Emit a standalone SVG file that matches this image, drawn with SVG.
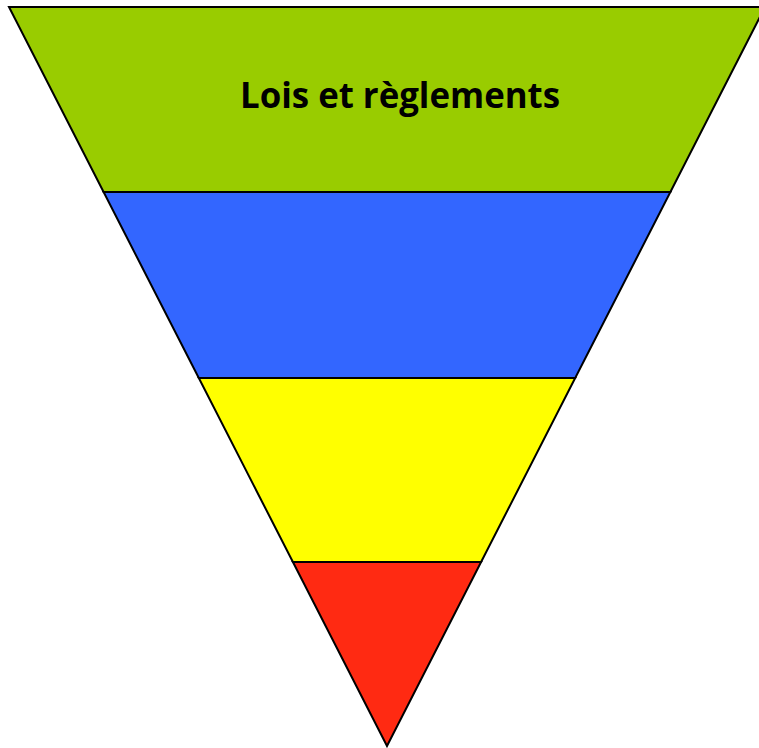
<svg xmlns="http://www.w3.org/2000/svg" width="759" height="748" viewBox="0 0 759 748">
  <style>
    .band { stroke: #000000; stroke-width: 2; stroke-linejoin: miter; }
    .label { font-family: "Open Sans", "Liberation Sans", sans-serif; font-weight: bold; font-size: 36px; fill: #000000; }
  </style>
  <rect x="0" y="0" width="759" height="748" fill="#ffffff"/>
  <g id="band1">
    <polygon class="band" fill="#99CC00" points="9,7 765,7 670.4,192 103.6,192"/>
    <text class="label" x="400" y="108" text-anchor="middle" textLength="320" lengthAdjust="spacingAndGlyphs">Lois et règlements</text>
  </g>
  <g id="band2">
    <polygon class="band" fill="#3366FF" points="103.6,192 670.4,192 575.2,378 198.8,378"/>
  </g>
  <g id="band3">
    <polygon class="band" fill="#FFFF00" points="198.8,378 575.2,378 481.1,562 292.9,562"/>
  </g>
  <g id="band4">
    <polygon class="band" fill="#FF2A12" points="292.9,562 481.1,562 387,746"/>
  </g>
  <g id="connectors"></g>
</svg>
